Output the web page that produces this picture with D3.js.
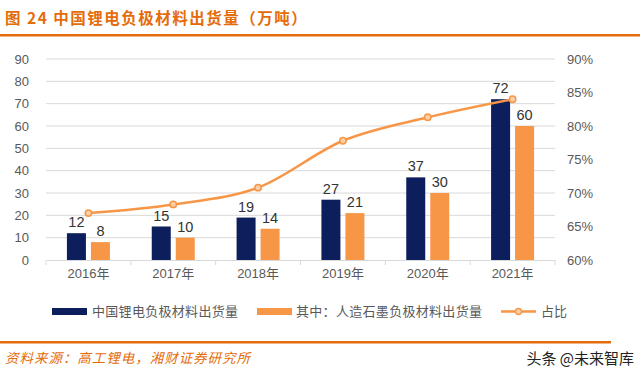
<!DOCTYPE html>
<html>
<head>
<meta charset="utf-8">
<script src="https://cdn.jsdelivr.net/npm/d3@7"></script>
<style>
  body { margin: 0; background: #fff; }
  svg { display: block; font-family: "Liberation Sans", Arial, "Noto Sans CJK SC", sans-serif; }
</style>
</head>
<body>
<svg id="chart"></svg>
<script>
const years = ["2016年", "2017年", "2018年", "2019年", "2020年", "2021年"];
const totalShip = [12, 15, 19, 27, 37, 72];
const graphiteShip = [8, 10, 14, 21, 30, 60];
const sharePct = [67.0, 68.3, 70.8, 77.8, 81.3, 84.0];
const leftTicks = [0, 10, 20, 30, 40, 50, 60, 70, 80, 90];
const rightTicks = [60, 65, 70, 75, 80, 85, 90];

const w = 640, h = 379;
const plotL = 46, plotR = 555, plotT = 59, plotB = 260;
const navy = "#0c1f5c", orange = "#f79646", accent = "#e46c0a";
const cjk = "'Noto Sans CJK SC', sans-serif";

const svg = d3.select("#chart").attr("width", w).attr("height", h);

// title + rules
svg.append("text").attr("x", 5).attr("y", 24)
    .attr("font-family", cjk).attr("font-size", 15.5).attr("font-weight", "bold")
    .attr("fill", accent).attr("letter-spacing", 1.5)
    .text("图 24 中国锂电负极材料出货量（万吨）");
svg.append("rect").attr("x", 0).attr("y", 34).attr("width", 640).attr("height", 2.5).attr("fill", accent);
svg.append("rect").attr("x", 0).attr("y", 341).attr("width", 611).attr("height", 2.5).attr("fill", accent);

const x = d3.scaleBand().domain(years).range([plotL, plotR]);
const y = d3.scaleLinear().domain([0, 90]).range([plotB, plotT]);
const y2 = d3.scaleLinear().domain([60, 90]).range([plotB, plotT]);

// grid
svg.append("g").selectAll("line").data(leftTicks.slice(1)).enter().append("line")
    .attr("x1", plotL).attr("x2", plotR)
    .attr("y1", d => y(d)).attr("y2", d => y(d))
    .attr("stroke", "#d9d9d9").attr("stroke-width", 1);

// left axis
const yAxis = d3.axisLeft(y).tickValues(leftTicks).tickSize(0).tickPadding(17);
const gy = svg.append("g").attr("transform", `translate(${plotL},0)`).call(yAxis);
gy.select(".domain").remove();
gy.selectAll("text").attr("font-size", 13).attr("fill", "#595959");

// right axis
const y2Axis = d3.axisRight(y2).tickValues(rightTicks).tickSize(0).tickPadding(12).tickFormat(d => d + "%");
const gy2 = svg.append("g").attr("transform", `translate(${plotR},0)`).call(y2Axis);
gy2.select(".domain").remove();
gy2.selectAll("text").attr("font-size", 13).attr("fill", "#595959");

// x axis
const xAxis = d3.axisBottom(x).tickSize(0).tickPadding(9);
const gx = svg.append("g").attr("transform", `translate(0,${plotB})`).call(xAxis);
gx.select(".domain").attr("stroke", "#d9d9d9");
gx.selectAll("text").attr("font-size", 13).attr("fill", "#595959").attr("font-family", "'Liberation Sans', 'Noto Sans CJK SC', sans-serif");
svg.append("g").selectAll("line").data(years.concat(["end"])).enter().append("line")
    .attr("x1", (d, i) => plotL + i * x.step()).attr("x2", (d, i) => plotL + i * x.step())
    .attr("y1", plotB).attr("y2", plotB + 5)
    .attr("stroke", "#d9d9d9");

// bars
const barW = 19, gap = 5;
const dx1 = x.bandwidth() / 2 - gap / 2 - barW;
const dx2 = x.bandwidth() / 2 + gap / 2;

svg.append("g").selectAll("rect").data(totalShip).enter().append("rect")
    .attr("x", (d, i) => x(years[i]) + dx1).attr("width", barW)
    .attr("y", d => y(d)).attr("height", d => plotB - y(d))
    .attr("fill", navy);
svg.append("g").selectAll("rect").data(graphiteShip).enter().append("rect")
    .attr("x", (d, i) => x(years[i]) + dx2).attr("width", barW)
    .attr("y", d => y(d)).attr("height", d => plotB - y(d))
    .attr("fill", orange);

svg.append("g").selectAll("text").data(totalShip).enter().append("text")
    .attr("x", (d, i) => x(years[i]) + dx1 + barW / 2).attr("y", d => y(d) - 6)
    .attr("text-anchor", "middle").attr("font-size", 14.5).attr("fill", "#333")
    .text(d => d);
svg.append("g").selectAll("text").data(graphiteShip).enter().append("text")
    .attr("x", (d, i) => x(years[i]) + dx2 + barW / 2).attr("y", d => y(d) - 6)
    .attr("text-anchor", "middle").attr("font-size", 14.5).attr("fill", "#333")
    .text(d => d);

// share line
const line = d3.line()
    .x((d, i) => x(years[i]) + x.bandwidth() / 2)
    .y(d => y2(d))
    .curve(d3.curveMonotoneX);
svg.append("path").datum(sharePct).attr("d", line)
    .attr("fill", "none").attr("stroke", orange).attr("stroke-width", 2.5);
svg.append("g").selectAll("circle").data(sharePct).enter().append("circle")
    .attr("cx", (d, i) => x(years[i]) + x.bandwidth() / 2).attr("cy", d => y2(d))
    .attr("r", 3.2).attr("fill", "#fbd0a8").attr("stroke", orange).attr("stroke-width", 1.5);

// legend
const lg = svg.append("g").attr("font-family", cjk).attr("font-size", 13).attr("fill", "#595959");
lg.append("rect").attr("x", 52).attr("y", 308).attr("width", 35).attr("height", 7).attr("fill", navy);
lg.append("text").attr("x", 92).attr("y", 316).attr("textLength", 146).text("中国锂电负极材料出货量");
lg.append("rect").attr("x", 257).attr("y", 308).attr("width", 35).attr("height", 7).attr("fill", orange);
lg.append("text").attr("x", 296).attr("y", 316).attr("textLength", 186).text("其中：人造石墨负极材料出货量");
lg.append("line").attr("x1", 501).attr("x2", 536).attr("y1", 311.5).attr("y2", 311.5)
    .attr("stroke", orange).attr("stroke-width", 2.5);
lg.append("circle").attr("cx", 518.5).attr("cy", 311.5).attr("r", 3)
    .attr("fill", "#fbd0a8").attr("stroke", orange).attr("stroke-width", 1.3);
lg.append("text").attr("x", 541).attr("y", 316).text("占比");

// footer
svg.append("text").attr("x", 5).attr("y", 363)
    .attr("font-family", cjk).attr("font-size", 13.5).attr("font-style", "italic")
    .attr("fill", accent).attr("textLength", 245)
    .text("资料来源：高工锂电，湘财证券研究所");
svg.append("text").attr("x", 634).attr("y", 364).attr("text-anchor", "end")
    .attr("font-family", cjk).attr("font-size", 15).attr("fill", "#222")
    .text("头条 @未来智库");
</script>
</body>
</html>
